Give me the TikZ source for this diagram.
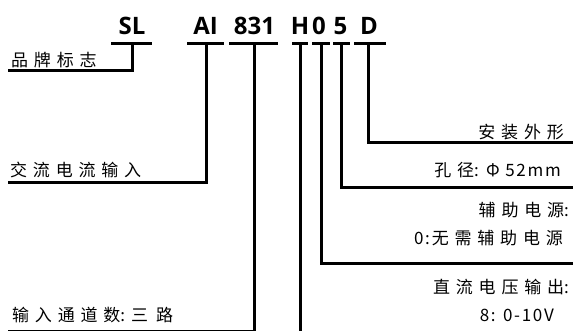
\documentclass[tikz,border=0pt]{standalone}
\usepackage{fontspec}
\newfontfamily\codefont{Open Sans}[BoldFont={Open Sans Bold}]
\newfontfamily\cjk{Noto Sans CJK SC}[LetterSpace=34]
\newfontfamily\cjkn{Noto Sans CJK SC}[LetterSpace=10]
\newcommand{\lt}[1]{{\cjkn #1}}
\begin{document}
\begin{tikzpicture}[x=1pt,y=-1pt,
  codelbl/.style={font=\codefont\bfseries\fontsize{24}{24}\selectfont, anchor=base, inner sep=0pt},
  desc/.style={font=\cjk\fontsize{17}{18}\selectfont, inner sep=0pt},
  wire/.style={line width=3pt, line join=miter, line cap=rect}]
\useasboundingbox (0,0) rectangle (573,331);
% code letters
\node[codelbl] (SL) at (132,35) {SL};
\node[codelbl] (AI) at (205.5,35) {AI};
\node[codelbl] (N831) at (254.5,35) {831};
\node[codelbl] (H) at (300,35) {H};
\node[codelbl] (Z) at (319,35) {0};
\node[codelbl] (F) at (340.5,35) {5};
\node[codelbl] (D) at (369,35) {D};
% bars
\draw[line width=3pt] (111,44) -- (152,44);
\draw[line width=3pt] (187,44) -- (224,44);
\draw[line width=3pt] (229,44) -- (278,44);
\draw[line width=3pt] (292,44) -- (308,44);
\draw[line width=3pt] (312,44) -- (330,44);
\draw[line width=3pt] (333,44) -- (350,44);
\draw[line width=3pt] (354,44) -- (386,44);
% descriptions
\node[desc, anchor=west] (brand) at (11,60) {品牌标志};
\node[desc, anchor=west] (acin) at (10,170) {交流电流输入};
\node[desc, anchor=west] (chan) at (12,315) {输入通道数\lt{:}\hspace{6pt}三\hspace{8pt}路};
\node[desc, anchor=east] (mount) at (564,132) {安装外形};
\node[desc, anchor=east] (hole) at (561,170) {孔径\lt{: Φ 52mm}};
\node[desc, anchor=east] (aux1) at (569,210) {辅助电源\lt{:}};
\node[desc, anchor=east] (aux2) at (563,238) {\lt{0:}\hspace{2pt}无需辅助电源};
\node[desc, anchor=east] (dc1) at (569,287) {直流电压输出\lt{:}};
\node[desc, anchor=east] (dc2) at (554,315) {\lt{8: 0-10V}};
% connector end points
\coordinate (sltop) at (132,44);
\coordinate (slend) at (9,71);
\coordinate (aitop) at (206,44);
\coordinate (aiend) at (9,183);
\coordinate (ntop) at (254,44);
\coordinate (nend) at (9,331);
\coordinate (htop) at (300,44);
\coordinate (hend) at (300,333);
\coordinate (ztop) at (321,44);
\coordinate (zend) at (575,263);
\coordinate (ftop) at (341,44);
\coordinate (fend) at (575,188);
\coordinate (dtop) at (368,44);
\coordinate (dend) at (575,143);
% connectors
\draw[wire] (sltop) |- (slend);
\draw[wire] (aitop) |- (aiend);
\draw[wire] (ntop) |- (nend);
\draw[wire] (htop) -- (hend);
\draw[wire] (ztop) |- (zend);
\draw[wire] (ftop) |- (fend);
\draw[wire] (dtop) |- (dend);
\end{tikzpicture}
\end{document}
